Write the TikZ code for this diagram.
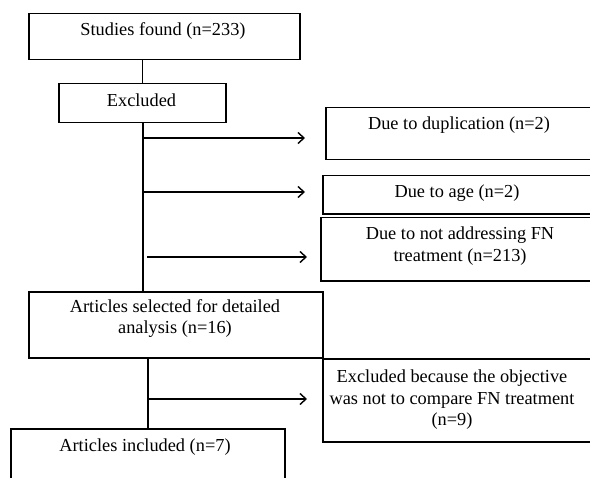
\documentclass[tikz,border=0pt]{standalone}
\usepackage{fontspec}
\setmainfont{Liberation Serif}
\usetikzlibrary{arrows.meta}
\begin{document}
\begin{tikzpicture}[x=1bp,y=-1bp,
  box/.style={draw=black,line width=1.5bp,rectangle,inner sep=0pt,anchor=north west},
  txt/.style={inner sep=0pt,align=center,font=\fontsize{18.4}{21.5}\selectfont},
  ln/.style={draw=black,line width=1.5bp},
  arr/.style={ln,-{Straight Barb[length=6bp,width=11bp,line width=1.4bp]}}]
\useasboundingbox (0,0) rectangle (590,478);
\clip (0,0) rectangle (590,478);
\fill[white] (0,0) rectangle (590,478);
% boxes
\node[box,minimum width=271bp,minimum height=46bp] (studies) at (28,13) {};
\node[box,minimum width=167bp,minimum height=39bp] (excl) at (58,83) {};
\node[box,minimum width=280bp,minimum height=52bp] (dup) at (325,107) {};
\node[box,minimum width=280bp,minimum height=38bp] (age) at (322,175) {};
\node[box,minimum width=280bp,minimum height=63bp] (notaddr) at (320,217) {};
\node[box,minimum width=294bp,minimum height=66bp] (sel) at (28,291) {};
\node[box,minimum width=280bp,minimum height=83bp] (exbec) at (322,358) {};
\node[box,minimum width=274bp,minimum height=70bp] (incl) at (10,428) {};
% texts
\node[txt] (tstudies) at (163,31.5) {Studies found (n=233)};
\node[txt] (texcl) at (141.5,100) {Excluded};
\node[txt] (tdup) at (459,125) {Due to duplication (n=2)};
\node[txt] (tage) at (457,193) {Due to age (n=2)};
\node[txt] (tnotaddr) at (460,246) {Due to not addressing FN\\treatment (n=213)};
\node[txt] (tsel) at (175,318.5) {Articles selected for detailed\\analysis (n=16)};
\node[txt] (tincl) at (145,447) {Articles included (n=7)};
\node[txt] (texbec) at (452,400) {Excluded because the objective\\was not to compare FN treatment\\(n=9)};
% arrow ends
\coordinate (a1) at (305,138);
\coordinate (a2) at (305,192);
\coordinate (a3) at (307,257);
\coordinate (a4) at (307,399);
% connectors
\draw[ln] (excl.north) -- (excl.north |- studies.south);
\draw[ln] (143,122) coordinate (t1) -- (t1 |- sel.north);
\draw[arr] (t1 |- a1) -- (a1);
\draw[arr] (t1 |- a2) -- (a2);
\draw[arr] ([xshift=4bp]t1 |- a3) -- (a3);
\draw[ln] (incl.north |- sel.south) -- (incl.north);
\draw[arr] (incl.north |- a4) -- (a4);
\end{tikzpicture}
\end{document}
